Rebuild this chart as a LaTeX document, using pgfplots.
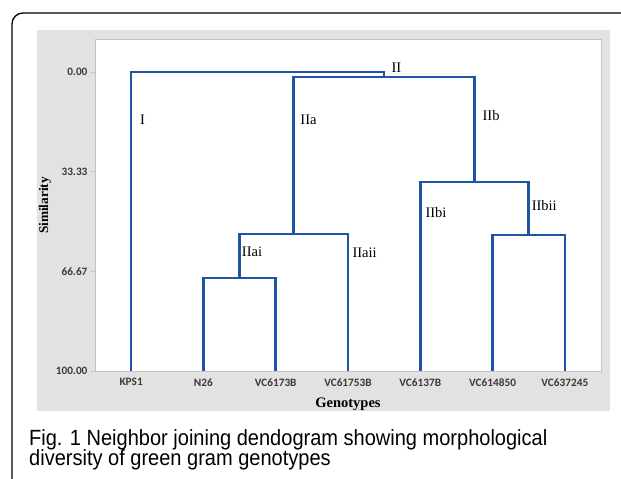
\documentclass[border=0pt]{standalone}
\usepackage{fontspec}
\setmainfont{Liberation Serif}
\newfontfamily\capfont{Liberation Sans}
\newfontfamily\tickfont{Carlito}
\usepackage{pgfplots}
\pgfplotsset{compat=1.18}
\definecolor{panel}{RGB}{226,226,226}
\definecolor{bord}{RGB}{195,195,195}
\definecolor{dblue}{RGB}{31,84,166}
\definecolor{tickc}{RGB}{58,58,58}
\begin{document}
\begin{tikzpicture}
\useasboundingbox (0pt,0pt) rectangle (621pt,479pt);
\draw[line width=1.3pt, rounded corners=11pt] (12pt,-10pt) -- (12pt,466pt) -- (640pt,466pt);
\fill[panel] (37pt,68pt) rectangle (610pt,449pt);
\begin{axis}[
  at={(95pt,108pt)}, anchor=south west,
  scale only axis, width=506pt, height=331pt,
  xmin=0.5, xmax=7.5, ymin=-10.7, ymax=100, y dir=reverse,
  axis background/.style={fill=white},
  axis line style={bord, line width=1pt},
  xtick={1,2,3,4,5,6,7},
  xticklabels={KPS1,N26,VC6173B,VC61753B,VC6137B,VC614850,VC637245},
  ytick={0,33.33,66.67,100},
  yticklabels={0.00,33.33,66.67,100.00},
  tick style={bord, line width=0.8pt},
  xtick style={draw=none},
  ytick pos=left, xtick pos=bottom,
  tick align=outside, major tick length=4pt,
  ticklabel style={font=\tickfont\bfseries\fontsize{11.3}{13}\selectfont, text=tickc},
  xticklabel style={yshift=0pt},
  xlabel={\bfseries Genotypes},
  ylabel={\bfseries Similarity},
  xlabel style={font=\fontsize{14.5}{16}\selectfont, yshift=-5pt},
  ylabel style={font=\fontsize{13.3}{15}\selectfont, yshift=-2pt},
  clip=false,
]
\addplot[dblue, line width=2.6pt, line join=miter] coordinates {(1,100) (1,0) (4.5,0) (4.5,1.67)};
\addplot[dblue, line width=2.6pt, line join=miter] coordinates {(3.25,54.2) (3.25,1.67) (5.75,1.67) (5.75,36.8)};
\addplot[dblue, line width=2.6pt, line join=miter] coordinates {(2.5,68.9) (2.5,54.2) (4,54.2) (4,100)};
\addplot[dblue, line width=2.6pt, line join=miter] coordinates {(2,100) (2,68.9) (3,68.9) (3,100)};
\addplot[dblue, line width=2.6pt, line join=miter] coordinates {(5,100) (5,36.8) (6.5,36.8) (6.5,54.5)};
\addplot[dblue, line width=2.6pt, line join=miter] coordinates {(6,100) (6,54.5) (7,54.5) (7,100)};
\begin{scope}[every node/.style={font=\fontsize{14.5}{16}\selectfont, anchor=west, inner sep=0pt}]
\node at (axis cs:1.12,16.0) {I};
\node at (axis cs:3.34,16.0) {IIa};
\node at (axis cs:5.86,14.4) {IIb};
\node at (axis cs:4.6,-1.3) {II};
\node at (axis cs:5.07,47.1) {IIbi};
\node at (axis cs:6.54,44.8) {IIbii};
\node at (axis cs:2.53,60.2) {IIai};
\node at (axis cs:4.06,60.5) {IIaii};
\end{scope}
\end{axis}
\node[anchor=base west, inner sep=0pt, font=\capfont\fontsize{22}{22}\selectfont, xscale=0.91] at (29pt,33pt) {Fig. 1 Neighbor joining dendogram showing morphological};
\node[anchor=base west, inner sep=0pt, font=\capfont\fontsize{22}{22}\selectfont, xscale=0.91] at (29pt,13pt) {diversity of green gram genotypes};
\end{tikzpicture}
\end{document}
